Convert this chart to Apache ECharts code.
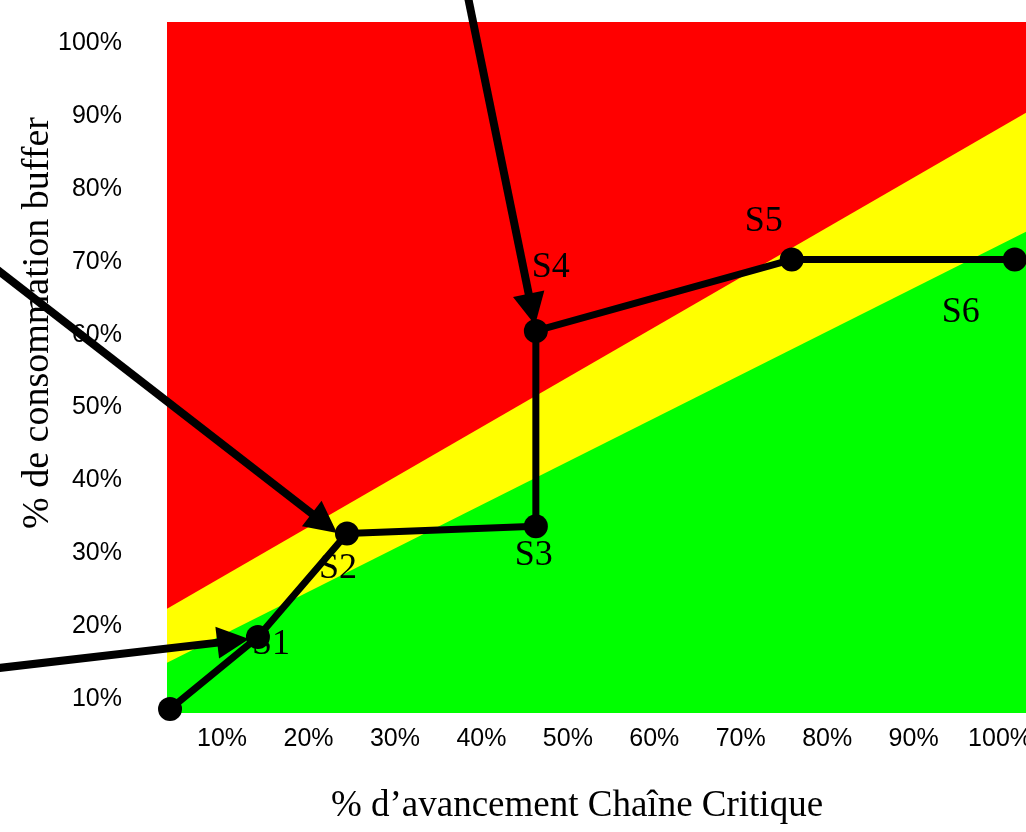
<!DOCTYPE html>
<html>
<head>
<meta charset="utf-8">
<script src="https://cdn.jsdelivr.net/npm/echarts@6/dist/echarts.min.js"></script>
<style>
html,body{margin:0;padding:0;background:#fff;}
#chart{width:1026px;height:832px;}
</style>
</head>
<body>
<div id="chart"></div>
<script>
// ---- data ----
const pathX = [3.98, 14.15, 24.45, 46.3, 46.3, 75.9, 101.7];
const pathY = [8.63, 18.5, 32.7, 33.7, 60.5, 70.3, 70.3];
const pathLabels = ['', 'S1', 'S2', 'S3', 'S4', 'S5', 'S6'];
const zoneX = [0, 105];
const redYellowY = [19.9, 91.8];
const yellowGreenY = [12.8, 75.3];
const xTicks = [10, 20, 30, 40, 50, 60, 70, 80, 90, 100];
const yTicks = [10, 20, 30, 40, 50, 60, 70, 80, 90, 100];
const arrowFrom = [[38.4, 106.6], [-16.84, 69.67], [-16.84, 14.11]];
const arrowTo = [[45.84, 63.46], [21.84, 34.11], [11.28, 17.98]];
const xTitle = '% d\u2019avancement Cha\u00eene Critique';
const yTitle = '% de consommation buffer';

// ---- styles ----
const labelOffsets = [[0, 0], [13, 7], [-9, 35], [-2, 29], [15, -63], [-28, -38], [-54, 53]];
const tickFont = "'Liberation Sans Narrow', 'Liberation Sans', sans-serif";
const serif = "'Liberation Serif', 'Times New Roman', serif";

const chart = echarts.init(document.getElementById('chart'), null, {renderer: 'canvas'});

const pathData = pathX.map((x, i) => ({
  value: [x, pathY[i]],
  label: {
    show: pathLabels[i] !== '',
    formatter: pathLabels[i],
    position: 'inside',
    offset: labelOffsets[i],
    fontFamily: serif,
    fontSize: 36,
    color: '#000'
  }
}));

chart.setOption({
  animation: false,
  grid: {left: 167, right: 0, top: 22, bottom: 119, show: true, backgroundColor: '#ff0000', borderWidth: 0, containLabel: false, outerBoundsMode: 'none'},
  xAxis: {
    type: 'value', min: 3.63, max: 103.0,
    axisLine: {show: false}, axisTick: {show: false}, splitLine: {show: false},
    axisLabel: {customValues: xTicks, formatter: '{value}%', fontFamily: tickFont, fontSize: 25, color: '#000', margin: 14, hideOverlap: false}
  },
  yAxis: {
    type: 'value', min: 8.08, max: 102.9,
    axisLine: {show: false}, axisTick: {show: false}, splitLine: {show: false},
    axisLabel: {customValues: yTicks, formatter: '{value}%', fontFamily: tickFont, fontSize: 25, color: '#000', margin: 45}
  },
  graphic: [
    {type: 'text', x: 577, y: 806, z: 10, style: {text: xTitle, font: '37px ' + serif, fill: '#000', textAlign: 'center', textVerticalAlign: 'middle'}},
    {type: 'text', x: 38, y: 323, rotation: Math.PI / 2, z: 10, style: {text: yTitle, font: '38px ' + serif, fill: '#000', textAlign: 'center', textVerticalAlign: 'middle'}}
  ],
  series: [
    {
      type: 'line', z: 1, silent: true, symbol: 'none',
      data: zoneX.map((x, i) => [x, redYellowY[i]]),
      lineStyle: {width: 0},
      areaStyle: {color: '#ffff00', opacity: 1, origin: 'start'}
    },
    {
      type: 'line', z: 2, silent: true, symbol: 'none',
      data: zoneX.map((x, i) => [x, yellowGreenY[i]]),
      lineStyle: {width: 0},
      areaStyle: {color: '#00ff00', opacity: 1, origin: 'start'}
    },
    {
      type: 'line', z: 4, clip: false,
      data: pathData,
      symbol: 'circle', symbolSize: 24,
      itemStyle: {color: '#000'},
      lineStyle: {color: '#000', width: 7}
    },
    {
      type: 'lines', coordinateSystem: 'cartesian2d', z: 5, clip: false,
      symbol: ['none', 'triangle'], symbolSize: [26, 32],
      lineStyle: {color: '#000', width: 8, opacity: 1},
      data: arrowFrom.map((f, i) => ({coords: [f, arrowTo[i]]}))
    }
  ]
});
</script>
</body>
</html>
